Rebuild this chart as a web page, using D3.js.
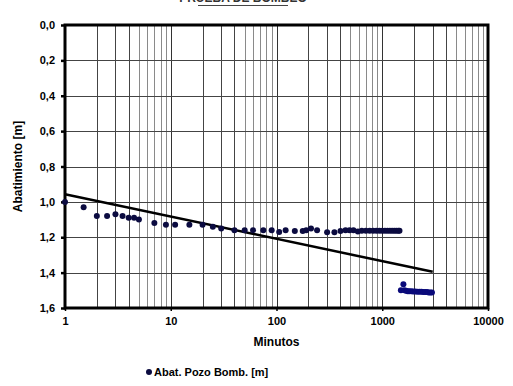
<!DOCTYPE html>
<html>
<head>
<meta charset="utf-8">
<script src="https://d3js.org/d3.v7.min.js"></script>
<style>
  body { margin: 0; background: #fff; }
  text { font-family: "Liberation Sans", Arial, sans-serif; font-weight: bold; }
</style>
</head>
<body>
<div id="chart"></div>
<script>
// Tiempo (min) y abatimiento (m)
const minutos = [1, 1.5, 2, 2.5, 3, 3.5, 4, 4.5, 5, 7, 9, 11, 15, 20, 25, 30, 40, 50, 60, 75, 90,
  106, 122, 149, 177, 191, 212, 242, 301, 353, 403, 449, 490, 534, 588,
  641, 700, 760, 820, 880, 940, 1000, 1060, 1120, 1180, 1240, 1300, 1360, 1420, 1455,
  1500, 1585, 1620, 1680, 1740, 1800, 1880, 1960, 2050, 2150, 2250, 2350, 2450, 2550, 2650, 2750, 2850, 2950];
const abatimiento = [1.00, 1.03, 1.08, 1.08, 1.07, 1.08, 1.09, 1.09, 1.10, 1.12, 1.13, 1.13, 1.13, 1.13, 1.14, 1.15, 1.16, 1.16, 1.16, 1.16, 1.16,
  1.17, 1.16, 1.165, 1.165, 1.16, 1.15, 1.16, 1.172, 1.172, 1.165, 1.16, 1.16, 1.16, 1.168,
  1.163, 1.163, 1.163, 1.163, 1.163, 1.163, 1.163, 1.163, 1.163, 1.163, 1.163, 1.163, 1.163, 1.163, 1.163,
  1.50, 1.466, 1.50, 1.503, 1.505, 1.505, 1.505, 1.507, 1.507, 1.508, 1.508, 1.508, 1.51, 1.51, 1.51, 1.512, 1.512, 1.512];

// Recta de ajuste (Jacob)
const rectaX = [1, 3000];
const rectaY = [0.957, 1.395];

const yTicks = [0, 0.2, 0.4, 0.6, 0.8, 1.0, 1.2, 1.4, 1.6];
const xTicks = [1, 10, 100, 1000, 10000];

const width = 513, height = 386;
const margin = { top: 25, right: 25, bottom: 78, left: 65 };

const svg = d3.select("#chart").append("svg")
  .attr("width", width)
  .attr("height", height);

const x = d3.scaleLog().domain([1, 10000]).range([margin.left, width - margin.right]);
const y = d3.scaleLinear().domain([0, 1.6]).range([margin.top, height - margin.bottom]);

// titulo cortado arriba (como en el original)
svg.append("text")
  .attr("x", 243).attr("y", 2)
  .attr("text-anchor", "middle")
  .style("font-size", "12px")
  .attr("fill", "#333")
  .text("PRUEBA DE BOMBEO");
svg.append("line")
  .attr("x1", 198).attr("x2", 288)
  .attr("y1", 5.5).attr("y2", 5.5)
  .attr("stroke", "#444").attr("stroke-width", 1);

// grilla vertical (minor)
const minor = [];
for (let d = 1; d < 10000; d *= 10) {
  for (let k = 2; k <= 9; k++) minor.push(d * k);
}
svg.append("g").selectAll("line")
  .data(minor)
  .join("line")
  .attr("x1", d => Math.round(x(d)) + 0.5).attr("x2", d => Math.round(x(d)) + 0.5)
  .attr("y1", y(0)).attr("y2", y(1.6))
  .attr("stroke", d => (String(d)[0] >= "5") ? "#8a8a8a" : "#444")
  .attr("stroke-width", 1);

svg.append("g").selectAll("line")
  .data(xTicks.slice(1, -1))
  .join("line")
  .attr("x1", d => Math.round(x(d)) + 0.5).attr("x2", d => Math.round(x(d)) + 0.5)
  .attr("y1", y(0)).attr("y2", y(1.6))
  .attr("stroke", "#333").attr("stroke-width", 1);

// grilla horizontal
svg.append("g").selectAll("line")
  .data(yTicks.slice(1, -1))
  .join("line")
  .attr("x1", x(1)).attr("x2", x(10000))
  .attr("y1", d => Math.round(y(d)) + 0.5).attr("y2", d => Math.round(y(d)) + 0.5)
  .attr("stroke", "#444").attr("stroke-width", 1);

// eje Y
const yAxis = d3.axisLeft(y).tickValues(yTicks)
  .tickFormat(d => d3.format(".1f")(d).replace(".", ","))
  .tickSize(4).tickPadding(6);
const gy = svg.append("g").attr("transform", `translate(${x(1)},0)`).call(yAxis);
gy.select(".domain").remove();
gy.selectAll(".tick line").attr("stroke", "#000").attr("stroke-width", 2.5);
gy.selectAll(".tick text").style("font-size", "11px").attr("fill", "#000")
  .style("font-family", "Liberation Sans, Arial, sans-serif").style("font-weight", "bold");

// eje X
const xAxis = d3.axisBottom(x).tickValues(xTicks)
  .tickFormat(d3.format("d"))
  .tickSize(3).tickPadding(6);
const gx = svg.append("g").attr("transform", `translate(0,${y(1.6)})`).call(xAxis);
gx.select(".domain").remove();
gx.selectAll(".tick line").attr("stroke", "#000").attr("stroke-width", 1.5);
gx.selectAll(".tick text").style("font-size", "11px").attr("fill", "#000")
  .style("font-family", "Liberation Sans, Arial, sans-serif").style("font-weight", "bold");

// marco
svg.append("rect")
  .attr("x", x(1)).attr("y", y(0))
  .attr("width", x(10000) - x(1)).attr("height", y(1.6) - y(0))
  .attr("fill", "none").attr("stroke", "#000").attr("stroke-width", 3);

// recta
svg.append("line")
  .attr("x1", x(rectaX[0])).attr("y1", y(rectaY[0]))
  .attr("x2", x(rectaX[1])).attr("y2", y(rectaY[1]))
  .attr("stroke", "#000").attr("stroke-width", 2.5);

// puntos
svg.append("g").selectAll("circle")
  .data(minutos.map((m, i) => ({ m, a: abatimiento[i] })))
  .join("circle")
  .attr("cx", d => x(d.m))
  .attr("cy", d => y(d.a))
  .attr("r", 3)
  .attr("fill", d => d.a > 1.4 ? "#0a0a7a" : "#0b0b40");

// titulos de ejes
svg.append("text")
  .attr("x", (x(1) + x(10000)) / 2).attr("y", 346)
  .attr("text-anchor", "middle")
  .style("font-size", "12px")
  .text("Minutos");

svg.append("text")
  .attr("transform", `translate(22,${(y(0) + y(1.6)) / 2}) rotate(-90)`)
  .attr("text-anchor", "middle")
  .style("font-size", "12px")
  .text("Abatimiento [m]");

// leyenda
svg.append("circle")
  .attr("cx", 149).attr("cy", 372).attr("r", 3).attr("fill", "#0b0b40");
svg.append("text")
  .attr("x", 154).attr("y", 376)
  .style("font-size", "11px")
  .text("Abat. Pozo Bomb. [m]");
</script>
</body>
</html>
